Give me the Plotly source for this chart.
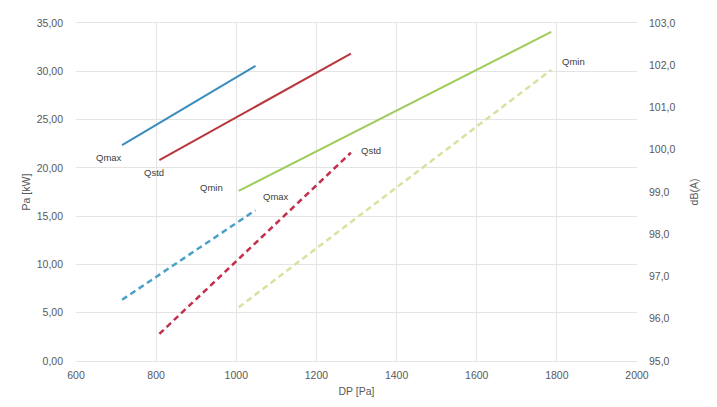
import plotly.graph_objects as go

# DP [Pa] for each operating point (start, end)
dp_qmax = [715, 1048]
dp_qstd = [808, 1286]
dp_qmin = [1006, 1786]

# Absorbed power Pa [kW] (solid lines, left axis)
pa_qmax = [22.35, 30.55]
pa_qstd = [20.8, 31.83]
pa_qmin = [17.62, 34.07]

# Sound level dB(A) (dashed lines, right axis)
db_qmax = [96.45, 98.57]
db_qstd = [95.64, 99.93]
db_qmin = [96.27, 101.89]

labels = ["Qmax", "Qstd", "Qmin"]

x_ticks = [600, 800, 1000, 1200, 1400, 1600, 1800, 2000]
y_ticks = [0, 5, 10, 15, 20, 25, 30, 35]
y2_ticks = [95, 96, 97, 98, 99, 100, 101, 102, 103]

FONT = "Liberation Sans, Arial, sans-serif"
TXT = "#595959"
GRID = "#e4e4e4"

fig = go.Figure()

solid_cols = ["#3a8cbf", "#b8363d", "#9ccc5a"]
dash_cols = ["#4aa0c6", "#c2304e", "#d6e29e"]

for xs, ys, c in zip([dp_qmax, dp_qstd, dp_qmin], [pa_qmax, pa_qstd, pa_qmin], solid_cols):
    fig.add_trace(go.Scatter(x=xs, y=ys, mode="lines", line=dict(color=c, width=2),
                             showlegend=False, hoverinfo="skip"))

for xs, ys, c in zip([dp_qmax, dp_qstd, dp_qmin], [db_qmax, db_qstd, db_qmin], dash_cols):
    fig.add_trace(go.Scatter(x=xs, y=ys, mode="lines", yaxis="y2",
                             line=dict(color=c, width=2.5, dash="6px,4px"),
                             showlegend=False, hoverinfo="skip"))

ann = []
# labels at start of solid lines
solid_offsets = [(-13, -12), (-5, -12), (-27, 3)]
for xs, ys, lab, (dx, dy) in zip([dp_qmax, dp_qstd, dp_qmin], [pa_qmax, pa_qstd, pa_qmin], labels, solid_offsets):
    ann.append(dict(x=xs[0], y=ys[0], xref="x", yref="y", text=lab, showarrow=False,
                    xshift=dx, yshift=dy, font=dict(family=FONT, size=9.5, color="#404040")))
# labels at end of dashed lines
dash_offsets = [(20, 14), (20, 2), (22, 8)]
for xs, ys, lab, (dx, dy) in zip([dp_qmax, dp_qstd, dp_qmin], [db_qmax, db_qstd, db_qmin], labels, dash_offsets):
    ann.append(dict(x=xs[-1], y=ys[-1], xref="x", yref="y2", text=lab, showarrow=False,
                    xshift=dx, yshift=dy, font=dict(family=FONT, size=9.5, color="#404040")))

fig.update_layout(
    width=717, height=407,
    margin=dict(l=68, r=88, t=15, b=54),
    paper_bgcolor="white", plot_bgcolor="white",
    separators=",.",
    font=dict(family=FONT, size=10.5, color=TXT),
    annotations=ann,
    xaxis=dict(range=[600, 2000], tickvals=x_ticks, tickformat="d", automargin=False,
               showgrid=True, gridcolor=GRID, gridwidth=1,
               showline=True, linecolor=GRID, mirror=True, zeroline=False,
               ticks="", ticklabelstandoff=4,
               title=dict(text="DP [Pa]", standoff=8, font=dict(size=10.5, color=TXT))),
    yaxis=dict(range=[0, 35], tickvals=y_ticks, tickformat=".2f", automargin=False,
               showgrid=True, gridcolor=GRID, gridwidth=1, zeroline=False,
               ticks="", ticklabelstandoff=12,
               title=dict(text="Pa [kW]", standoff=4, font=dict(size=10.5, color=TXT))),
    yaxis2=dict(range=[95, 103], tickvals=y2_ticks, tickformat=".1f", overlaying="y",
                side="right", showgrid=False, zeroline=False, ticks="", automargin=False,
                ticklabelstandoff=11,
                title=dict(text="dB(A)", standoff=16, font=dict(size=10.5, color=TXT))),
)

fig.write_html("out.html")
